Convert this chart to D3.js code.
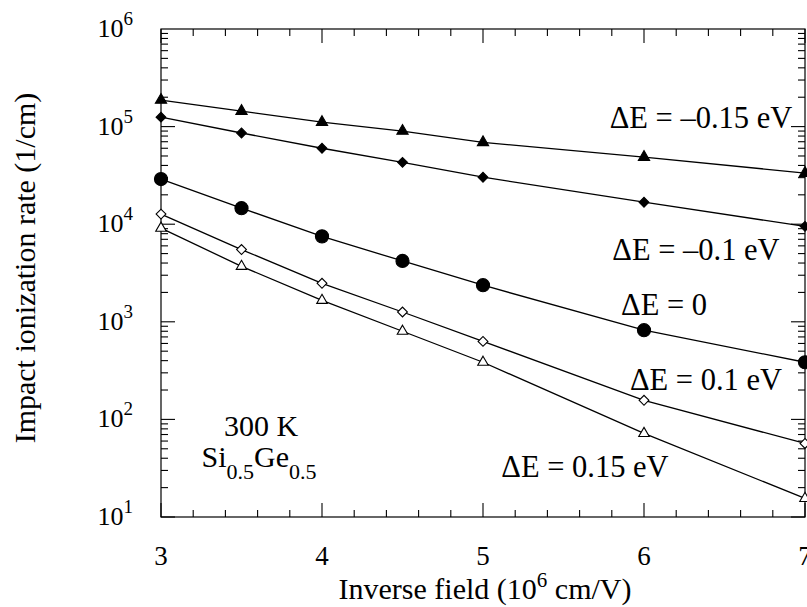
<!DOCTYPE html>
<html><head><meta charset="utf-8">
<script src="https://cdn.jsdelivr.net/npm/d3@7"></script>
<style>
body{margin:0;background:#fff;}
svg text{font-family:"Liberation Serif","DejaVu Serif",serif;}
</style></head>
<body><svg id="c" width="807" height="607"></svg>
<script>
const xValues = [3, 3.5, 4, 4.5, 5, 6, 7];
const seriesM015 = [1.87e5, 1.44e5, 1.11e5, 9.0e4, 6.9e4, 4.87e4, 3.34e4];
const seriesM010 = [1.25e5, 8.6e4, 6.0e4, 4.3e4, 3.03e4, 1.68e4, 9.5e3];
const series000 = [2.9e4, 1.46e4, 7.5e3, 4.2e3, 2.37e3, 8.2e2, 3.85e2];
const seriesP010 = [1.27e4, 5.5e3, 2.48e3, 1.26e3, 6.3e2, 1.57e2, 56.7];
const seriesP015 = [9.1e3, 3.7e3, 1.66e3, 8.0e2, 3.85e2, 71.8, 15.5];
const seriesNames = ["ΔE = –0.15 eV", "ΔE = –0.1 eV", "ΔE = 0", "ΔE = 0.1 eV", "ΔE = 0.15 eV"];
const xTicks = [3, 4, 5, 6, 7];
const yTickExps = [1, 2, 3, 4, 5, 6];

const FONT = "Liberation Serif, DejaVu Serif, serif";
const svg = d3.select("#c");
const L = 161, R = 805, T = 29, B = 517;
const x = d3.scaleLinear().domain([3, 7]).range([L, R]);
const y = d3.scaleLog().domain([10, 1e6]).range([B, T]);

// frame
svg.append("rect").attr("x", L).attr("y", T).attr("width", R - L).attr("height", B - T)
  .attr("fill", "none").attr("stroke", "#000").attr("stroke-width", 1.2);

// x ticks (bottom & top, inward)
const xMinor = d3.range(3, 7.0001, 0.2).map(v => +v.toFixed(1));
const g = svg.append("g").attr("stroke", "#000").attr("stroke-width", 1.1);
xMinor.forEach(v => {
  const major = Math.abs(v - Math.round(v)) < 1e-6;
  const len = major ? 14 : 7;
  g.append("line").attr("x1", x(v)).attr("x2", x(v)).attr("y1", B).attr("y2", B - len);
  g.append("line").attr("x1", x(v)).attr("x2", x(v)).attr("y1", T).attr("y2", T + len);
});
// y ticks (left & right, inward)
for (let e = 1; e < 6; e++) {
  for (let m = 1; m <= 9; m++) {
    const v = m * Math.pow(10, e);
    const len = m === 1 ? 14 : 7;
    g.append("line").attr("x1", L).attr("x2", L + len).attr("y1", y(v)).attr("y2", y(v));
    g.append("line").attr("x1", R).attr("x2", R - len).attr("y1", y(v)).attr("y2", y(v));
  }
}

// x tick labels
svg.append("g").selectAll("text").data(xTicks).join("text")
  .attr("font-family", FONT)
  .attr("x", d => x(d)).attr("y", 565).attr("text-anchor", "middle")
  .attr("font-size", 27).text(d => d);

// y tick labels
const yl = svg.append("g").selectAll("text").data(yTickExps).join("text")
  .attr("font-family", FONT)
  .attr("x", 133).attr("y", d => y(Math.pow(10, d)) + 8).attr("text-anchor", "end")
  .attr("font-size", 26);
yl.append("tspan").text("10");
yl.append("tspan").attr("font-size", 19).attr("dy", -12).text(d => d);

// axis titles
const xt = svg.append("text").attr("font-family", FONT).attr("x", 485).attr("y", 599).attr("text-anchor", "middle").attr("font-size", 30);
xt.append("tspan").text("Inverse field (10");
xt.append("tspan").attr("font-size", 21).attr("dy", -12).text("6");
xt.append("tspan").attr("dy", 12).text(" cm/V)");

svg.append("text").attr("font-family", FONT).attr("transform", "translate(35,268) rotate(-90)")
  .attr("text-anchor", "middle").attr("font-size", 30).text("Impact ionization rate (1/cm)");

// series
const allSeries = [seriesM015, seriesM010, series000, seriesP010, seriesP015];
const line = d3.line().x((d, i) => x(xValues[i])).y(d => y(d));
const lg = svg.append("g");
allSeries.forEach(s => {
  lg.append("path").datum(s).attr("d", line).attr("fill", "none")
    .attr("stroke", "#000").attr("stroke-width", 1.3);
});

const markerDefs = [
  {sym: d3.symbolTriangle, size: 55, fill: "#000", rot: 0},
  {sym: d3.symbolSquare, size: 48, fill: "#000", rot: 45},
  {sym: d3.symbolCircle, size: 135, fill: "#000", rot: 0},
  {sym: d3.symbolSquare, size: 48, fill: "#fff", rot: 45},
  {sym: d3.symbolTriangle, size: 48, fill: "#fff", rot: 0}
];
allSeries.forEach((s, k) => {
  const md = markerDefs[k];
  const sym = d3.symbol().type(md.sym).size(md.size);
  svg.append("g").selectAll("path").data(s).join("path")
    .attr("transform", (d, i) => `translate(${x(xValues[i])},${y(d)}) rotate(${md.rot})`)
    .attr("d", sym).attr("fill", md.fill).attr("stroke", "#000").attr("stroke-width", 1.1);
});

// series labels
const labelPos = [[701, 128], [696, 260], [664, 315], [706, 390], [585, 477]];
svg.append("g").selectAll("text").data(seriesNames).join("text")
  .attr("font-family", FONT)
  .attr("x", (d, i) => labelPos[i][0]).attr("y", (d, i) => labelPos[i][1])
  .attr("text-anchor", "middle").attr("font-size", 30.5)
  .text(d => d);

// annotation
svg.append("text").attr("font-family", FONT).attr("x", 261).attr("y", 436).attr("text-anchor", "middle").attr("font-size", 30).text("300 K");
const an = svg.append("text").attr("font-family", FONT).attr("x", 259).attr("y", 467).attr("text-anchor", "middle").attr("font-size", 30);
an.append("tspan").text("Si");
an.append("tspan").attr("font-size", 22).attr("dy", 12).text("0.5");
an.append("tspan").attr("dy", -12).text("Ge");
an.append("tspan").attr("font-size", 22).attr("dy", 12).text("0.5");
</script></body></html>
